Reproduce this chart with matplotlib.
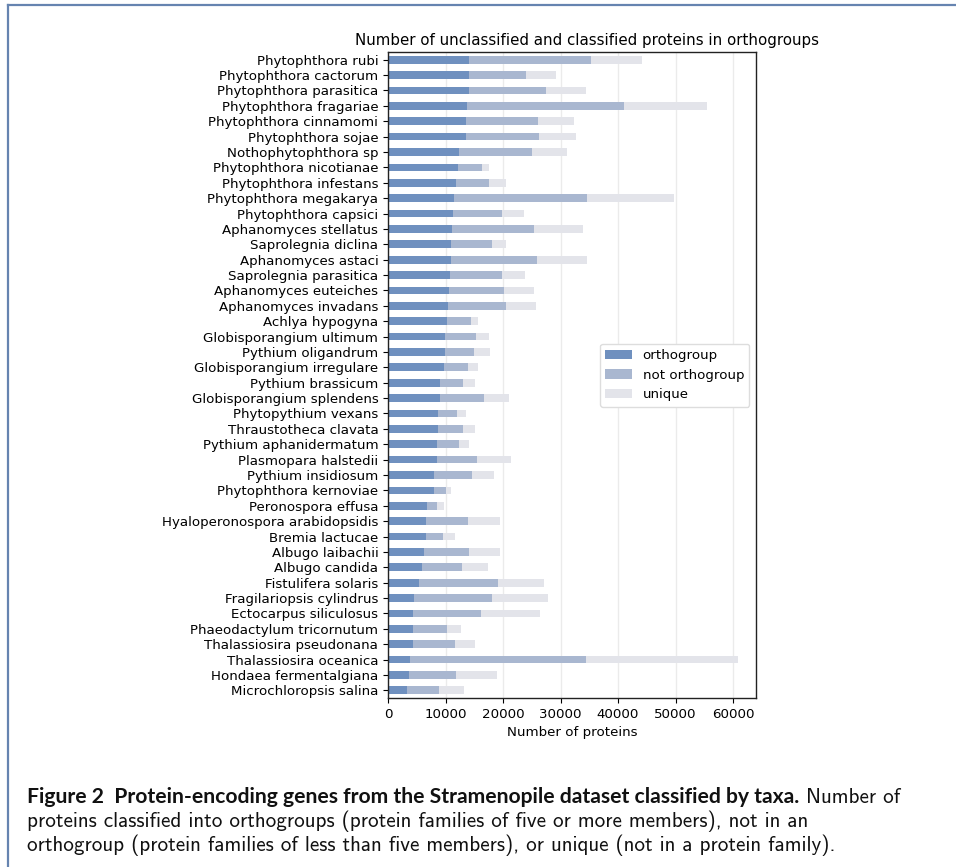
import matplotlib
matplotlib.use("Agg")
import matplotlib.pyplot as plt
from matplotlib.lines import Line2D
import numpy as np

# taxa, top to bottom
taxa = [
    "Phytophthora rubi", "Phytophthora cactorum", "Phytophthora parasitica",
    "Phytophthora fragariae", "Phytophthora cinnamomi", "Phytophthora sojae",
    "Nothophytophthora sp", "Phytophthora nicotianae", "Phytophthora infestans",
    "Phytophthora megakarya", "Phytophthora capsici", "Aphanomyces stellatus",
    "Saprolegnia diclina", "Aphanomyces astaci", "Saprolegnia parasitica",
    "Aphanomyces euteiches", "Aphanomyces invadans", "Achlya hypogyna",
    "Globisporangium ultimum", "Pythium oligandrum", "Globisporangium irregulare",
    "Pythium brassicum", "Globisporangium splendens", "Phytopythium vexans",
    "Thraustotheca clavata", "Pythium aphanidermatum", "Plasmopara halstedii",
    "Pythium insidiosum", "Phytophthora kernoviae", "Peronospora effusa",
    "Hyaloperonospora arabidopsidis", "Bremia lactucae", "Albugo laibachii",
    "Albugo candida", "Fistulifera solaris", "Fragilariopsis cylindrus",
    "Ectocarpus siliculosus", "Phaeodactylum tricornutum",
    "Thalassiosira pseudonana", "Thalassiosira oceanica",
    "Hondaea fermentalgiana", "Microchloropsis salina",
]

# proteins in orthogroups
orthogroup = [
    14050, 14050, 14050, 13700, 13520, 13520, 12310, 12140, 11790, 11440,
    11270, 11100, 10920, 10920, 10750, 10580, 10400, 10230, 9880, 9880,
    9710, 9020, 9020, 8670, 8670, 8500, 8500, 7980, 7980, 6760,
    6590, 6590, 6240, 5900, 5380, 4510, 4340, 4340, 4340, 3820,
    3640, 3300,
]

# proteins not in an orthogroup
not_orthogroup = [
    21320, 9880, 13350, 27400, 12490, 12660, 12660, 4160, 5720, 23240,
    8500, 14220, 7110, 14910, 9020, 9540, 10060, 4160, 5380, 5030,
    4160, 3990, 7630, 3300, 4340, 3810, 6930, 6590, 2080, 1730,
    7280, 2950, 7800, 6930, 13700, 13520, 11790, 5890, 7280, 30690,
    8150, 5550,
]

# unique proteins
unique = [
    8840, 5200, 7110, 14390, 6420, 6590, 6070, 1210, 2950, 15090,
    3810, 8670, 2430, 8840, 3990, 5200, 5200, 1210, 2250, 2770,
    1730, 2080, 4330, 1560, 2080, 1730, 5900, 3810, 870, 1210,
    5550, 2080, 5380, 4510, 7980, 9710, 10230, 2430, 3470, 26360,
    7110, 4340,
]

plt.rcParams["font.size"] = 9.6

fig = plt.figure(figsize=(9.56, 8.67), dpi=100)
ax = fig.add_axes([0.4059, 0.1949, 0.3849, 0.7451])

y = np.arange(len(taxa))
ortho = np.array(orthogroup)
notog = np.array(not_orthogroup)
uniq = np.array(unique)

ax.barh(y, ortho, height=0.5, color="#6f90bf", label="orthogroup", zorder=2)
ax.barh(y, notog, left=ortho, height=0.5, color="#a9b7d0",
        label="not orthogroup", zorder=2)
ax.barh(y, uniq, left=ortho + notog, height=0.5, color="#e3e4ea",
        label="unique", zorder=2)

ax.set_yticks(y)
ax.set_yticklabels(taxa)
ax.set_ylim(len(taxa) - 0.5, -0.5)
ax.set_xlim(0, 64000)
ax.set_xticks(np.arange(0, 60001, 10000))
ax.grid(axis="x", color="#ebebeb", linewidth=1.0, zorder=0)
ax.set_axisbelow(True)
for s in ax.spines.values():
    s.set_linewidth(1.0)
    s.set_color("#222222")

ax.set_xlabel("Number of proteins")
ax.set_title("Number of unclassified and classified proteins in orthogroups",
             fontsize=10.8, x=0.542, pad=5)
ax.legend(loc="center right", fontsize=9.6, framealpha=1.0,
          edgecolor="#dddddd", handlelength=2.0)

# page frame
frame_col = "#6684b0"
fig.add_artist(Line2D([8 / 956, 1.0], [1 - 5 / 867, 1 - 5 / 867],
                      transform=fig.transFigure, color=frame_col, lw=1.6))
fig.add_artist(Line2D([8 / 956, 8 / 956], [0.0, 1 - 5 / 867],
                      transform=fig.transFigure, color=frame_col, lw=1.6))

# caption
cap_x = 27 / 956
cap_size = 15.2
bold = fig.text(cap_x, 1 - 803 / 867,
                "Figure 2  Protein-encoding genes from the Stramenopile dataset classified by taxa.",
                fontsize=cap_size, fontfamily="Lato", fontweight="bold",
                va="baseline", color="#111111")
ax.annotate(" Number of", xy=(1, 0), xycoords=bold, va="bottom", ha="left",
            fontsize=cap_size, fontfamily="cmss10", color="#111111",
            annotation_clip=False)
fig.text(cap_x, 1 - 827 / 867,
         "proteins classified into orthogroups (protein families of five or more members), not in an",
         fontsize=cap_size, fontfamily="cmss10", va="baseline", color="#111111")
fig.text(cap_x, 1 - 851 / 867,
         "orthogroup (protein families of less than five members), or unique (not in a protein family).",
         fontsize=cap_size, fontfamily="cmss10", va="baseline", color="#111111")

fig.savefig("out.png", dpi=100)
